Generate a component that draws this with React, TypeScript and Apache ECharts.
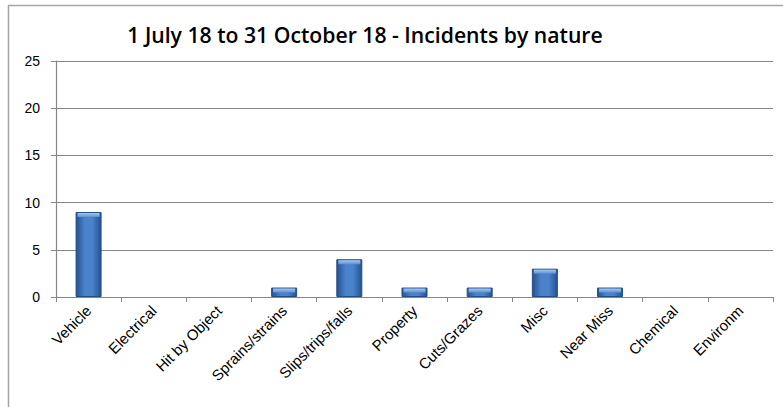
import React, { useEffect, useRef } from "react";
import * as echarts from "echarts";

const categories = [
  "Vehicle",
  "Electrical",
  "Hit by Object",
  "Sprains/strains",
  "Slips/trips/falls",
  "Property",
  "Cuts/Grazes",
  "Misc",
  "Near Miss",
  "Chemical",
  "Environm",
];
const incidents = [9, 0, 0, 1, 4, 1, 1, 3, 1, 0, 0];
const yTicks = { min: 0, max: 25, interval: 5 };
const titleText = "1 July 18 to 31 October 18 - Incidents by nature";

export default function App() {
  const ref = useRef<HTMLDivElement>(null);

  useEffect(() => {
    if (!ref.current) return;
    const chart = echarts.init(ref.current, null, { renderer: "svg" });

    const barFill = new echarts.graphic.LinearGradient(0, 0, 1, 0, [
      { offset: 0, color: "#25528f" },
      { offset: 0.35, color: "#4a82cc" },
      { offset: 0.65, color: "#4a82cc" },
      { offset: 1, color: "#25528f" },
    ]);
    const capFill = new echarts.graphic.LinearGradient(0, 0, 0, 1, [
      { offset: 0, color: "#a4c8f0" },
      { offset: 1, color: "#5a90d4" },
    ]);

    // empty categories draw nothing (no hairline at the baseline)
    const barData = incidents.map((v) =>
      v > 0 ? v : { value: v, itemStyle: { borderWidth: 0, opacity: 0 } }
    );
    const capData = incidents.map((v) => (v > 0 ? v : "-"));

    chart.setOption({
      animation: false,
      backgroundColor: "#ffffff",
      title: {
        text: titleText,
        left: 360,
        top: 19,
        textAlign: "center",
        textStyle: {
          fontFamily: "Open Sans",
          fontWeight: 600,
          fontSize: 21.2,
          color: "#000000",
        },
      },
      graphic: [
        {
          type: "rect",
          shape: { x: 8.5, y: 5.5, width: 800, height: 420 },
          style: { fill: "none", stroke: "#a6a6a6", lineWidth: 1.5 },
          silent: true,
        },
      ],
      grid: { left: 56, right: 10, top: 61, bottom: 110, containLabel: false },
      xAxis: {
        type: "category",
        data: categories,
        boundaryGap: true,
        axisLine: { lineStyle: { color: "#868686", width: 1.2 } },
        axisTick: { show: true, length: 5, lineStyle: { color: "#868686" } },
        axisLabel: {
          rotate: 45,
          interval: 0,
          margin: 11,
          fontFamily: "Liberation Sans",
          fontSize: 15,
          color: "#000000",
        },
      },
      yAxis: {
        type: "value",
        min: yTicks.min,
        max: yTicks.max,
        interval: yTicks.interval,
        axisLine: { show: true, lineStyle: { color: "#868686", width: 1.2 } },
        axisTick: { show: true, length: 5, lineStyle: { color: "#868686" } },
        splitLine: { lineStyle: { color: "#868686", width: 1.2 } },
        axisLabel: {
          margin: 16,
          fontFamily: "Liberation Sans",
          fontSize: 14,
          color: "#000000",
        },
      },
      series: [
        {
          type: "bar",
          data: barData,
          barWidth: 26,
          itemStyle: {
            color: barFill,
            borderColor: "#234d85",
            borderWidth: 1,
          },
        },
        {
          type: "pictorialBar",
          data: capData,
          symbol: "rect",
          symbolSize: [22, 4],
          symbolPosition: "end",
          symbolOffset: [0, 1],
          z: 3,
          itemStyle: { color: capFill },
        },
      ],
    });

    return () => chart.dispose();
  }, []);

  return (
    <div
      ref={ref}
      style={{ position: "fixed", left: 0, top: 0, width: 783, height: 407 }}
    />
  );
}
